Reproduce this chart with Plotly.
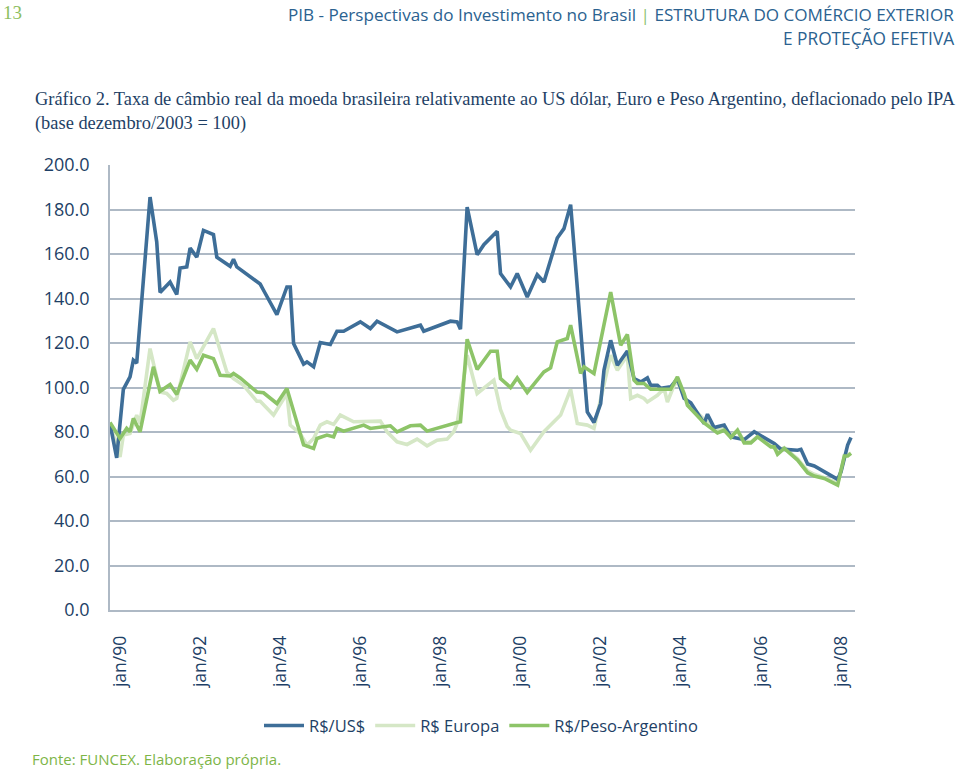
import plotly.graph_objects as go

# ---------------- data (period index: 0 = jan/90, 24 = jan/92, ...) ----------------
usd_idx = [-3, -1, 1, 3, 4, 5, 9, 11, 12, 15, 17, 18, 20, 21, 23, 25, 28, 29, 33, 34, 35,
           42, 43, 47, 50, 51, 52, 55, 56, 58, 60, 63, 65, 67, 72, 75, 77, 83, 90, 91,
           99, 101, 102, 104, 107, 109, 113, 114, 117, 119, 122, 125, 127, 131, 133, 135,
           140, 142, 144, 145, 147, 149, 152, 154, 156, 158, 159, 161, 162, 165, 167, 169,
           171, 175, 176, 178, 181, 183, 187, 190, 196, 198, 203, 204, 206, 208, 215, 216,
           218, 219]
usd_val = [83.8, 68.4, 99.2, 104.8, 112.3, 111.0, 185.6, 165.4, 142.7, 147.4, 141.8, 153.7,
           154.2, 162.7, 158.6, 170.6, 168.7, 158.6, 154.5, 157.6, 154.2,
           146.5, 143.7, 132.8, 145.2, 145.2, 119.8, 110.5, 111.5, 109.3, 120.2, 119.3, 125.3,
           125.3, 129.5, 126.5, 129.8, 125.0, 128.0, 125.3,
           129.8, 129.5, 126.2, 181.1, 159.7, 164.2, 170.2, 151.2, 145.2, 151.2, 140.7, 150.7,
           147.4, 167.2, 171.4, 182.2,
           89.0, 84.3, 92.8, 107.8, 121.2, 110.0, 116.4, 104.0, 102.5, 104.3, 101.0, 101.0,
           99.6, 100.3, 104.0, 95.1,
           93.1, 83.8, 88.0, 82.0, 83.1, 77.8, 76.6, 80.1, 74.8, 72.3, 71.8, 72.2, 65.6, 64.7,
           58.7, 62.1, 74.1, 77.5]

eur_idx = [-3, 0, 1, 3, 5, 6, 9, 12, 14, 16, 17, 21, 23, 28, 32, 34, 37, 41, 42, 46, 50, 51,
           54, 56, 58, 60, 62, 64, 66, 70, 78, 80, 83, 86, 89, 92, 95, 98, 100, 101,
           104, 107, 112, 114, 116, 117, 120, 123, 127, 132, 135, 137, 140, 142,
           147, 149, 152, 153, 155, 157, 158, 161, 163, 164, 166, 167, 170,
           172, 175, 179, 181, 183, 185, 187, 189, 191, 195, 197, 199, 203, 206, 208, 211,
           215, 217, 219]
eur_val = [83.5, 68.8, 78.6, 79.3, 87.6, 83.8, 117.5, 98.0, 97.3, 94.3, 95.1, 120.5, 113.0,
           126.5, 107.0, 104.0, 101.0, 93.8, 93.8, 87.6, 97.3, 83.1,
           79.3, 74.1, 77.1, 83.1, 84.6, 83.4, 87.6, 84.6, 84.9, 80.1, 75.6, 74.4, 76.8, 73.8,
           76.3, 76.8, 80.1, 83.8,
           114.5, 97.3, 103.3, 90.0, 82.5, 80.8, 79.3, 71.8, 80.1, 87.6, 99.2, 83.8, 83.1, 81.6,
           114.5, 107.8, 114.5, 95.1, 96.5, 95.1, 93.5, 96.5, 99.6, 93.5, 101.0, 102.5, 93.5,
           90.5, 85.5, 81.0, 81.5, 78.5, 80.5, 76.0, 75.5, 78.0, 74.0, 71.5, 73.0, 68.0, 62.5,
           61.0, 59.5, 57.0, 69.0, 70.5]

ars_idx = [-3, 0, 2, 3, 4, 6, 10, 12, 15, 17, 21, 23, 25, 28, 30, 33, 34, 36, 41, 43, 47, 50,
           55, 58, 59, 62, 64, 65, 67, 73, 75, 81, 83, 87, 90, 92, 101, 102,
           104, 107, 111, 113, 114, 117, 119, 122, 127, 129, 131, 134, 135, 138, 139, 142,
           147, 149, 150, 152, 154, 155, 157, 159, 165, 167, 169, 170, 172, 175, 179, 181,
           183, 185, 187, 189, 191, 195, 196, 197, 199, 203, 206, 208, 211, 215, 217, 218,
           219]
ars_val = [84.3, 77.1, 81.6, 80.1, 86.1, 80.1, 109.3, 98.3, 101.3, 96.9, 112.3, 108.2,
           114.5, 113.0, 105.5, 105.2, 106.3, 104.3, 98.0, 97.6, 92.8, 99.6,
           74.2, 72.6, 77.1, 78.6, 77.8, 81.6, 80.4, 83.1, 81.6, 82.8, 80.1, 82.8, 83.1, 80.4,
           84.3, 84.6,
           121.7, 108.1, 116.3, 116.3, 104.0, 100.0, 104.3, 97.8, 107.0, 108.8, 120.5, 122.0,
           128.0, 106.3, 109.3, 106.3,
           142.9, 126.5, 119.0, 123.8, 103.3, 101.8, 101.8, 99.2, 99.2, 104.8, 97.3, 92.0,
           89.0, 84.1, 79.6, 80.8,
           77.5, 80.8, 75.1, 75.1, 77.8, 73.3, 73.3, 70.0, 72.6, 67.4, 61.7, 60.2, 59.1, 56.1,
           69.2, 69.2, 70.4]

tick_idx = [0, 24, 48, 72, 96, 120, 144, 168, 192, 216]
tick_labels = ["jan/90", "jan/92", "jan/94", "jan/96", "jan/98",
               "jan/00", "jan/02", "jan/04", "jan/06", "jan/08"]
y_ticks = [0, 20, 40, 60, 80, 100, 120, 140, 160, 180, 200]

# ---------------- styling ----------------
NAVY = "#1E3F66"
BLUE = "#3E6E98"
LIGHT = "#D5E7C6"
GREEN = "#8DC468"
GRID = "#AEB9C5"
SANS = "Open Sans, DejaVu Sans, sans-serif"
SERIF = "Liberation Serif, DejaVu Serif, serif"

fig = go.Figure()
fig.add_trace(go.Scatter(x=eur_idx, y=eur_val, mode="lines", name="R$ Europa",
                         line=dict(color=LIGHT, width=3.6), legendrank=2))
fig.add_trace(go.Scatter(x=usd_idx, y=usd_val, mode="lines", name="R$/US$",
                         line=dict(color=BLUE, width=3.6), legendrank=1))
fig.add_trace(go.Scatter(x=ars_idx, y=ars_val, mode="lines", name="R$/Peso-Argentino",
                         line=dict(color=GREEN, width=3.6), legendrank=3))

fig.update_layout(
    width=960, height=769,
    margin=dict(l=110, r=105, t=165, b=159, autoexpand=False),
    paper_bgcolor="white", plot_bgcolor="white",
    showlegend=True,
    legend=dict(orientation="h", x=0.2, xanchor="left", y=-0.26, yanchor="middle",
                font=dict(family=SANS, size=16.5, color=NAVY),
                itemwidth=40, bgcolor="rgba(0,0,0,0)", traceorder="normal"),
    xaxis=dict(range=[-3, 220.2], tickmode="array", tickvals=tick_idx, ticktext=tick_labels,
               tickangle=-90, showgrid=False, zeroline=False,
               showline=True, linecolor=GRID, linewidth=1.5,
               ticks="", ticklabelstandoff=17,
               tickfont=dict(family=SANS, size=17.5, color=NAVY)),
    yaxis=dict(range=[0, 200], tickmode="array", tickvals=y_ticks,
               ticktext=[f"{v:.1f}" for v in y_ticks],
               showgrid=True, gridcolor=GRID, gridwidth=1.5, zeroline=False,
               showline=True, linecolor=GRID, linewidth=1.5,
               ticks="", ticklabelstandoff=15,
               tickfont=dict(family=SANS, size=18, color=NAVY)),
)

def px_x(px):
    return (px - 110) / 745.0

def px_y(py):
    return (610 - py) / 445.0

ann = [
    dict(text="13", x=px_x(1), y=px_y(12), xanchor="left", yanchor="middle",
         font=dict(family=SERIF, size=19, color="#8DBE5F")),
    dict(text="PIB - Perspectivas do Investimento no Brasil <span style='color:#8DC26F'>|</span> ESTRUTURA DO COMÉRCIO EXTERIOR",
         x=px_x(956), y=px_y(14), xanchor="right", yanchor="middle",
         font=dict(family=SANS, size=17.1, color="#2B6290")),
    dict(text="E PROTEÇÃO EFETIVA", x=px_x(956), y=px_y(38), xanchor="right", yanchor="middle",
         font=dict(family=SANS, size=17.3, color="#2B6290")),
    dict(text="Gráfico 2. Taxa de câmbio real da moeda brasileira relativamente ao US dólar, Euro e Peso Argentino, deflacionado pelo IPA",
         x=px_x(33), y=px_y(99), xanchor="left", yanchor="middle",
         font=dict(family=SERIF, size=18.4, color=NAVY)),
    dict(text="(base dezembro/2003 = 100)", x=px_x(33), y=px_y(124), xanchor="left",
         yanchor="middle", font=dict(family=SERIF, size=18.4, color=NAVY)),
    dict(text="Fonte: FUNCEX. Elaboração própria.", x=px_x(30), y=px_y(759), xanchor="left",
         yanchor="middle", font=dict(family=SANS, size=15, color="#7DB547")),
]
for a in ann:
    a.update(xref="paper", yref="paper", showarrow=False)
fig.update_layout(annotations=ann)

# remove the browser's default 8px body margin so the 960x769 figure fills the window
fig.write_html("out.html", config={"displayModeBar": False},
               post_script="document.body.style.margin='0';")
